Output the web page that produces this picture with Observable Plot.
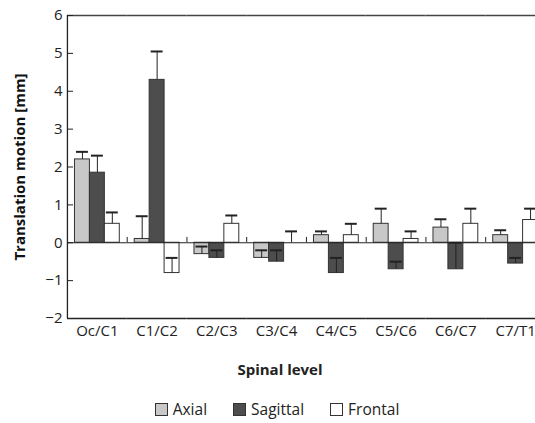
<!DOCTYPE html>
<html>
<head>
<meta charset="utf-8">
<script src="https://cdn.jsdelivr.net/npm/d3@7"></script>
<script src="https://cdn.jsdelivr.net/npm/@observablehq/plot@0.6"></script>
<style>
  body { margin: 0; background: #fff; font-family: "Open Sans", sans-serif; color: #222; }
  #wrap { position: relative; width: 535px; height: 423px; overflow: hidden; }
  #chart { position: absolute; left: 0; top: 0; }
  #xlabel { position: absolute; left: 0; top: 359px; width: 560px; text-align: center; font-weight: bold; font-size: 15px; line-height: 20px; }
  #legend { position: absolute; left: 0; top: 400px; width: 554px; display: flex; justify-content: center; font-size: 15.5px; line-height: 18px; }
  .item { display: flex; align-items: center; margin: 0 13px; }
  .sw { width: 11px; height: 11px; border: 1px solid #333; margin-right: 5px; }
</style>
</head>
<body>
<div id="wrap">
  <div id="chart"></div>
  <div id="xlabel">Spinal level</div>
  <div id="legend"></div>
</div>
<script>
const levels = ["Oc/C1", "C1/C2", "C2/C3", "C3/C4", "C4/C5", "C5/C6", "C6/C7", "C7/T1"];
const series = ["Axial", "Sagittal", "Frontal"];
const colors = ["#c8c8c8", "#4d4d4d", "#ffffff"];
const axial       = [2.2, 0.1, -0.3, -0.4, 0.2, 0.5, 0.4, 0.2];
const axialErr    = [0.2, 0.6, 0.2, 0.2, 0.1, 0.4, 0.22, 0.13];
const sagittal    = [1.85, 4.3, -0.4, -0.5, -0.8, -0.7, -0.7, -0.55];
const sagittalErr = [0.45, 0.75, 0.2, 0.3, 0.4, 0.2, 0.7, 0.15];
const frontal     = [0.5, -0.8, 0.5, 0, 0.2, 0.1, 0.5, 0.6];
const frontalErr  = [0.3, 0.4, 0.22, 0.3, 0.3, 0.2, 0.4, 0.3];
const yTicks = [-2, -1, 0, 1, 2, 3, 4, 5, 6];
const yLabel = "Translation motion [mm]";

const valuesBySeries = [axial, sagittal, frontal];
const errBySeries = [axialErr, sagittalErr, frontalErr];
const rows = [];
levels.forEach((lvl, i) => {
  series.forEach((s, j) => {
    rows.push({level: lvl, series: s, value: valuesBySeries[j][i], err: errBySeries[j][i]});
  });
});
const seps = levels.slice(1).map(l => ({level: l, series: series[0]}));
const first = [{level: levels[0], series: series[0], text: yLabel}];

const chart = Plot.plot({
  width: 535,
  height: 350,
  marginTop: 15,
  marginLeft: 67,
  marginRight: -10,
  marginBottom: 32,
  style: {fontFamily: "Open Sans, sans-serif", fontSize: "15px", color: "#222", overflow: "visible"},
  fx: {domain: levels, range: [67, 545], padding: 0, round: false, axis: null, label: null},
  x: {domain: series, paddingInner: 0, paddingOuter: 0.5, round: false, axis: null},
  y: {domain: [-2, 6], axis: null},
  color: {domain: series, range: colors},
  marks: [
    Plot.barY(rows, {fx: "level", x: "series", y: "value", fill: "series", stroke: "#333", strokeWidth: 1}),
    Plot.ruleY([0], {stroke: "#222", strokeWidth: 1}),
    Plot.ruleY([6], {stroke: "#444", strokeWidth: 1.3}),
    Plot.ruleY([-2], {stroke: "#222", strokeWidth: 1.3}),
    Plot.ruleX(first, {fx: "level", x: "series", dx: -15, y1: -2, y2: 6, stroke: "#222", strokeWidth: 1.3}),
    Plot.ruleX(seps, {fx: "level", x: "series", dx: -15, y1: 0, y2: 0.14, stroke: "#222"}),
    Plot.ruleX(rows, {fx: "level", x: "series", y1: "value", y2: d => d.value + d.err, stroke: "#222", strokeWidth: 1}),
    Plot.tickY(rows, {fx: "level", x: "series", y: d => d.value + d.err, insetLeft: 1.5, insetRight: 1.5, stroke: "#222", strokeWidth: 2}),
    Plot.axisY(yTicks, {anchor: "left", label: null, tickSize: -6, tickPadding: 11, stroke: "#222", fill: "#222", fontSize: 15}),
    Plot.axisFx({anchor: "bottom", tickSize: 0, tickPadding: 7, label: null, fontSize: 15, fill: "#222"}),
    Plot.text(first, {fx: "level", text: "text", frameAnchor: "left", textAnchor: "middle", rotate: -90, dx: -47, fontWeight: "bold", fontSize: 15, fill: "#111"})
  ]
});
document.getElementById("chart").appendChild(chart);

const legend = d3.select("#legend");
series.forEach((s, j) => {
  const it = legend.append("div").attr("class", "item");
  it.append("div").attr("class", "sw").style("background", colors[j]);
  it.append("span").text(s);
});
</script>
</body>
</html>
